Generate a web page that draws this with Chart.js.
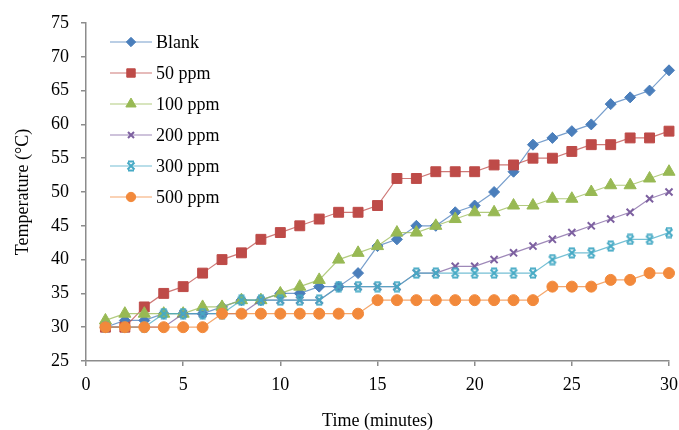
<!DOCTYPE html>
<html>
<head>
<meta charset="utf-8">
<script src="https://cdn.jsdelivr.net/npm/chart.js@4.4.1/dist/chart.umd.min.js"></script>
<style>
  html, body { margin: 0; padding: 0; background: #ffffff; }
  canvas { display: block; }
</style>
</head>
<body>
<canvas id="chart" width="679" height="430"></canvas>
<script>
// Temperature readings (°C) taken every minute
const minutes = [1,2,3,4,5,6,7,8,9,10,11,12,13,14,15,16,17,18,19,20,21,22,23,24,25,26,27,28,29,30];
const blank  = [30,31,31,32,32,32,33,34,34,35,35,36,36,38,42,43,45,45,47,48,50,53,57,58,59,60,63,64,65,68];
const ppm50  = [30,30,33,35,36,38,40,41,43,44,45,46,47,47,48,52,52,53,53,53,54,54,55,55,56,57,57,58,58,59];
const ppm100 = [31,32,32,32,32,33,33,34,34,35,36,37,40,41,42,44,44,45,46,47,47,48,48,49,49,50,51,51,52,53];
const ppm200 = [30,30,30,30,32,32,32,32,34,34,34,34,36,36,36,36,38,38,39,39,40,41,42,43,44,45,46,47,49,50];
const ppm300 = [30,30,30,32,32,32,32,34,34,34,34,34,36,36,36,36,38,38,38,38,38,38,38,40,41,41,42,43,43,44];
const ppm500 = [30,30,30,30,30,30,32,32,32,32,32,32,32,32,34,34,34,34,34,34,34,34,34,36,36,36,37,37,38,38];

const seriesNames = ['Blank', '50 ppm', '100 ppm', '200 ppm', '300 ppm', '500 ppm'];
const xTicks = [0, 5, 10, 15, 20, 25, 30];
const yTicks = [25, 30, 35, 40, 45, 50, 55, 60, 65, 70, 75];

const FONT = "'Liberation Serif', 'Times New Roman', serif";

// Star-like marker: an X capped by short bars at top and bottom
function makeStarMarker(color) {
  const c = document.createElement('canvas');
  c.width = 12; c.height = 12;
  const g = c.getContext('2d');
  g.strokeStyle = color;
  g.lineWidth = 2;
  g.beginPath();
  g.moveTo(2.5, 2.5); g.lineTo(9.5, 9.5);
  g.moveTo(9.5, 2.5); g.lineTo(2.5, 9.5);
  g.moveTo(3, 1.5); g.lineTo(9, 1.5);
  g.moveTo(3, 10.5); g.lineTo(9, 10.5);
  g.stroke();
  return c;
}

const styles = [
  { color: '#4A7EBB', line: 'rgba(74,126,187,0.75)',  point: 'rectRot',  radius: 5.5, bw: 1 },
  { color: '#BE4B48', line: 'rgba(190,75,72,0.75)',   point: 'rect',     radius: 7,   bw: 1 },
  { color: '#98B954', line: 'rgba(152,185,84,0.75)',  point: 'triangle', radius: 7,   bw: 1 },
  { color: '#7D60A0', line: 'rgba(125,96,160,0.75)',  point: 'crossRot', radius: 5,   bw: 2 },
  { color: '#46AAC5', line: 'rgba(70,170,197,0.75)',  point: null,       radius: 6,   bw: 1 },
  { color: '#F2893B', line: 'rgba(242,137,59,0.75)',  point: 'circle',   radius: 5.5, bw: 1 }
];
styles[4].point = makeStarMarker(styles[4].color);

const seriesValues = [blank, ppm50, ppm100, ppm200, ppm300, ppm500];

const datasets = seriesValues.map((vals, i) => ({
  label: seriesNames[i],
  data: minutes.map((m, k) => ({ x: m, y: vals[k] })),
  borderColor: styles[i].line,
  borderWidth: 1.2,
  backgroundColor: styles[i].color,
  pointStyle: styles[i].point,
  pointRadius: styles[i].radius,
  pointBorderColor: styles[i].color,
  pointBackgroundColor: styles[i].color,
  pointBorderWidth: styles[i].bw,
  tension: 0,
  clip: false,
  order: seriesValues.length - i
}));

// Legend drawn inside the plot area, stacked vertically at the top-left
const insideLegend = {
  id: 'insideLegend',
  afterDraw(chart) {
    const ctx = chart.ctx;
    const x0 = 110, x1 = 152, xm = 131, xt = 156;
    const yStart = 42, step = 31;
    ctx.save();
    chart.data.datasets.forEach((ds, i) => {
      const y = yStart + i * step;
      ctx.strokeStyle = ds.borderColor;
      ctx.lineWidth = 1.2;
      ctx.beginPath();
      ctx.moveTo(x0, y);
      ctx.lineTo(x1, y);
      ctx.stroke();
      ctx.fillStyle = ds.pointBackgroundColor;
      ctx.strokeStyle = ds.pointBorderColor;
      ctx.lineWidth = ds.pointBorderWidth;
      Chart.helpers.drawPoint(ctx, {
        pointStyle: ds.pointStyle,
        radius: ds.pointRadius * 0.85,
        rotation: 0,
        borderWidth: ds.pointBorderWidth
      }, xm, y);
      ctx.fillStyle = '#000000';
      ctx.font = '18px ' + FONT;
      ctx.textAlign = 'left';
      ctx.textBaseline = 'middle';
      ctx.fillText(ds.label, xt, y + 1);
    });
    ctx.restore();
  }
};

const axisGray = '#8C8C8C';

new Chart(document.getElementById('chart'), {
  type: 'line',
  data: { datasets },
  plugins: [insideLegend],
  options: {
    responsive: false,
    animation: false,
    layout: { padding: { top: 23, right: 0, bottom: 0, left: 0 } },
    plugins: {
      legend: { display: false },
      tooltip: { enabled: false }
    },
    scales: {
      x: {
        type: 'linear',
        min: 0, max: 30,
        afterBuildTicks: (scale) => { scale.ticks = xTicks.map(v => ({ value: v })); },
        afterFit: (scale) => {
          scale.height = 69;
          scale.paddingLeft = 0;
          scale.paddingRight = 10;
        },
        grid: { drawOnChartArea: false, drawTicks: true, tickLength: 5, color: axisGray, lineWidth: 1.5 },
        border: { color: axisGray, width: 1.5 },
        ticks: { color: '#000', padding: 8, font: { family: FONT, size: 18 }, maxRotation: 0 },
        title: { display: true, text: 'Time (minutes)', color: '#000', font: { family: FONT, size: 18 }, padding: { top: 0, bottom: -2 } }
      },
      y: {
        min: 25, max: 75,
        afterBuildTicks: (scale) => { scale.ticks = yTicks.map(v => ({ value: v })); },
        afterFit: (scale) => { scale.width = 86; },
        grid: { drawOnChartArea: false, drawTicks: true, tickLength: 5, color: axisGray, lineWidth: 1.5 },
        border: { color: axisGray, width: 1.5 },
        ticks: { color: '#000', padding: 12, font: { family: FONT, size: 18 } },
        title: { display: true, text: 'Temperature (°C)', color: '#000', font: { family: FONT, size: 18 }, padding: { top: 12, bottom: 0 } }
      }
    }
  }
});
</script>
</body>
</html>
